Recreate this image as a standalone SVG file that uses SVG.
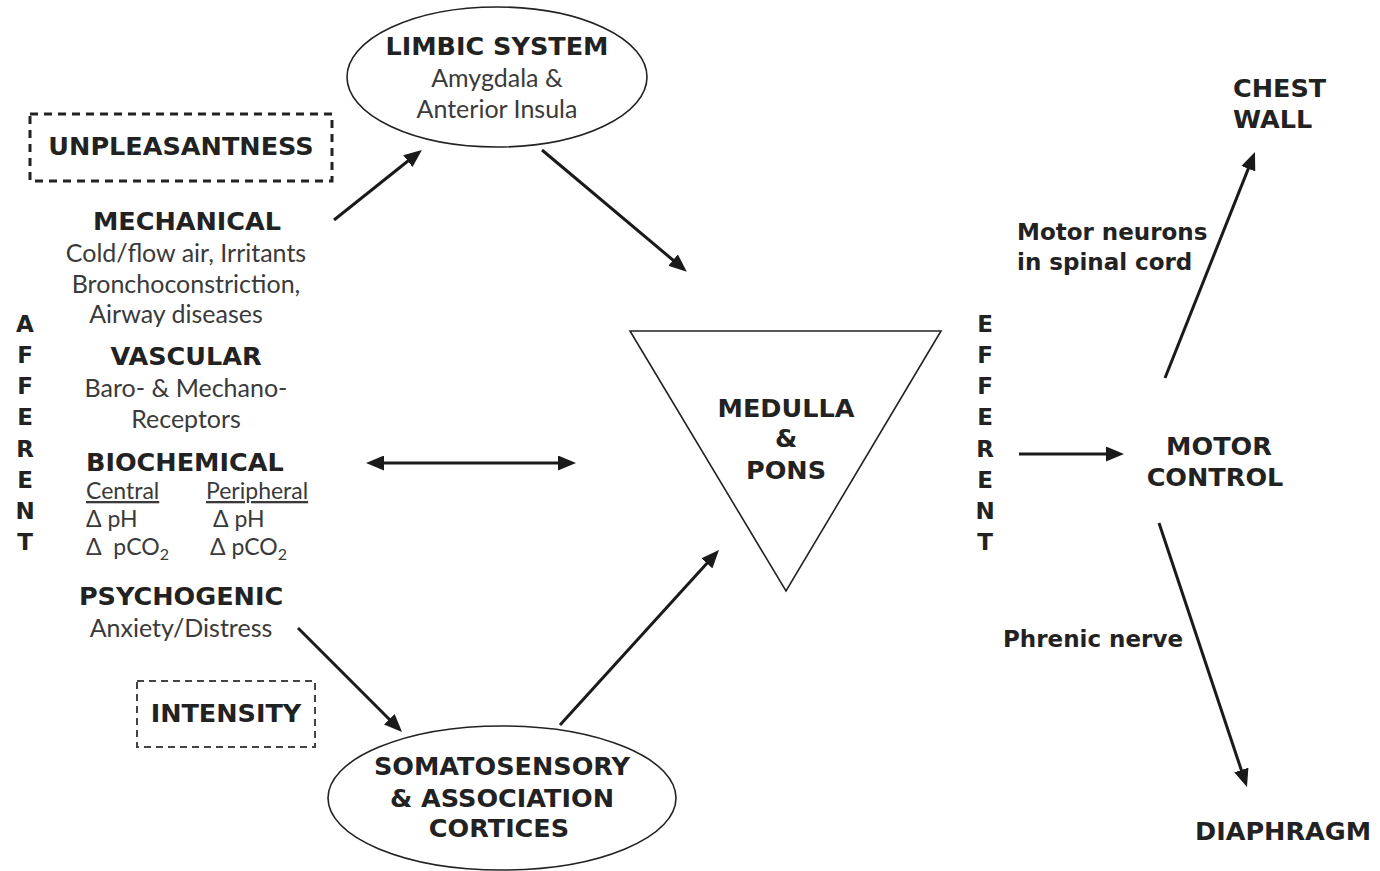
<svg xmlns="http://www.w3.org/2000/svg" width="1380" height="871" viewBox="0 0 1380 871">
<defs>
<style>
.b{font-family:"DejaVu Sans","Liberation Sans",sans-serif;font-weight:bold;font-size:25.5px;fill:#222}
.bs{font-family:"DejaVu Sans","Liberation Sans",sans-serif;font-weight:bold;font-size:23px;fill:#222}
.r{font-family:Lato,"Open Sans","Liberation Sans",sans-serif;font-size:25px;fill:#3a3a3a}
.rs{font-family:Lato,"Open Sans","Liberation Sans",sans-serif;font-size:23px;fill:#3a3a3a}
.m{text-anchor:middle}
.shape{fill:none;stroke:#222;stroke-width:1.6}
.conn{fill:none;stroke:#1a1a1a;stroke-width:3}
.dash1{fill:none;stroke:#222;stroke-width:3;stroke-dasharray:8 6}
.dash2{fill:none;stroke:#444;stroke-width:2;stroke-dasharray:7 5}
</style>
<marker id="ah" viewBox="0 0 18 15" refX="13" refY="7.5" markerWidth="18" markerHeight="15" markerUnits="userSpaceOnUse" orient="auto-start-reverse">
<path d="M0,0 L18,7.5 L0,15 Z" fill="#1a1a1a"/>
</marker>
</defs>
<rect width="1380" height="871" fill="#fff"/>

<g id="connectors">
<line class="conn" x1="334" y1="220" x2="418" y2="153" marker-end="url(#ah)"/>
<line class="conn" x1="542" y1="150" x2="683" y2="268.5" marker-end="url(#ah)"/>
<line class="conn" x1="371" y1="463" x2="571" y2="463" marker-start="url(#ah)" marker-end="url(#ah)"/>
<line class="conn" x1="298" y1="628" x2="398.5" y2="728.5" marker-end="url(#ah)"/>
<line class="conn" x1="560" y1="725" x2="715.6" y2="553.7" marker-end="url(#ah)"/>
<line class="conn" x1="1019" y1="454" x2="1119" y2="454" marker-end="url(#ah)"/>
<line class="conn" x1="1165" y1="378" x2="1253.1" y2="156.6" marker-end="url(#ah)"/>
<line class="conn" x1="1159" y1="523" x2="1245.4" y2="782.3" marker-end="url(#ah)"/>
</g>

<g id="limbic">
<ellipse class="shape" cx="497" cy="77" rx="150" ry="70"/>
<text class="b m" x="497" y="55">LIMBIC SYSTEM</text>
<text class="r m" x="497" y="87">Amygdala &amp;</text>
<text class="r m" x="497" y="118">Anterior Insula</text>
</g>

<g id="unpleasantness">
<rect class="dash1" x="30" y="114" width="302" height="67"/>
<text class="b m" x="181" y="155">UNPLEASANTNESS</text>
</g>

<g id="afferent-inputs">
<text class="b m" x="187" y="230">MECHANICAL</text>
<text class="r m" x="186" y="262">Cold/flow air, Irritants</text>
<text class="r m" x="186" y="293">Bronchoconstriction,</text>
<text class="r m" x="176" y="323">Airway diseases</text>
<text class="b m" x="186" y="365">VASCULAR</text>
<text class="r m" x="186" y="397">Baro- &amp; Mechano-</text>
<text class="r m" x="186" y="428">Receptors</text>
<text class="b" x="86" y="471">BIOCHEMICAL</text>
<text class="rs" x="86" y="499" text-decoration="underline">Central</text>
<text class="rs" x="206" y="499" text-decoration="underline">Peripheral</text>
<text class="rs" x="86" y="527">Δ pH</text>
<text class="rs" x="213" y="527">Δ pH</text>
<text class="rs" x="86" y="555" xml:space="preserve">Δ  pCO<tspan font-size="16" dy="5">2</tspan></text>
<text class="rs" x="210" y="555">Δ pCO<tspan font-size="16" dy="5">2</tspan></text>
<text class="b m" x="181" y="605">PSYCHOGENIC</text>
<text class="r m" x="181" y="637">Anxiety/Distress</text>
</g>

<g id="afferent-label">
<text class="bs m" x="25" y="332">A</text>
<text class="bs m" x="25" y="363">F</text>
<text class="bs m" x="25" y="394">F</text>
<text class="bs m" x="25" y="425">E</text>
<text class="bs m" x="25" y="457">R</text>
<text class="bs m" x="25" y="488">E</text>
<text class="bs m" x="25" y="519">N</text>
<text class="bs m" x="25" y="550">T</text>
</g>

<g id="intensity">
<rect class="dash2" x="137" y="681" width="178" height="66"/>
<text class="b m" x="226" y="722">INTENSITY</text>
</g>

<g id="somatosensory">
<ellipse class="shape" cx="502" cy="798" rx="174" ry="72"/>
<text class="b m" x="502" y="775">SOMATOSENSORY</text>
<text class="b m" x="502" y="807">&amp; ASSOCIATION</text>
<text class="b m" x="499" y="837">CORTICES</text>
</g>

<g id="medulla">
<polygon class="shape" points="630,331 941,331 786,591"/>
<text class="b m" x="786" y="417">MEDULLA</text>
<text class="b m" x="786" y="447">&amp;</text>
<text class="b m" x="786" y="479">PONS</text>
</g>

<g id="efferent-label">
<text class="bs m" x="985" y="332">E</text>
<text class="bs m" x="985" y="363">F</text>
<text class="bs m" x="985" y="394">F</text>
<text class="bs m" x="985" y="425">E</text>
<text class="bs m" x="985" y="457">R</text>
<text class="bs m" x="985" y="488">E</text>
<text class="bs m" x="985" y="519">N</text>
<text class="bs m" x="985" y="550">T</text>
</g>

<g id="motor-control">
<text class="b m" x="1219" y="455">MOTOR</text>
<text class="b m" x="1215" y="486">CONTROL</text>
</g>

<g id="chest-wall">
<text class="b" x="1233" y="97">CHEST</text>
<text class="b" x="1233" y="128">WALL</text>
</g>

<g id="diaphragm">
<text class="b" x="1195" y="840">DIAPHRAGM</text>
</g>

<g id="connector-labels">
<text class="bs" x="1017" y="240">Motor neurons</text>
<text class="bs" x="1017" y="270">in spinal cord</text>
<text class="bs" x="1003" y="647">Phrenic nerve</text>
</g>
</svg>
